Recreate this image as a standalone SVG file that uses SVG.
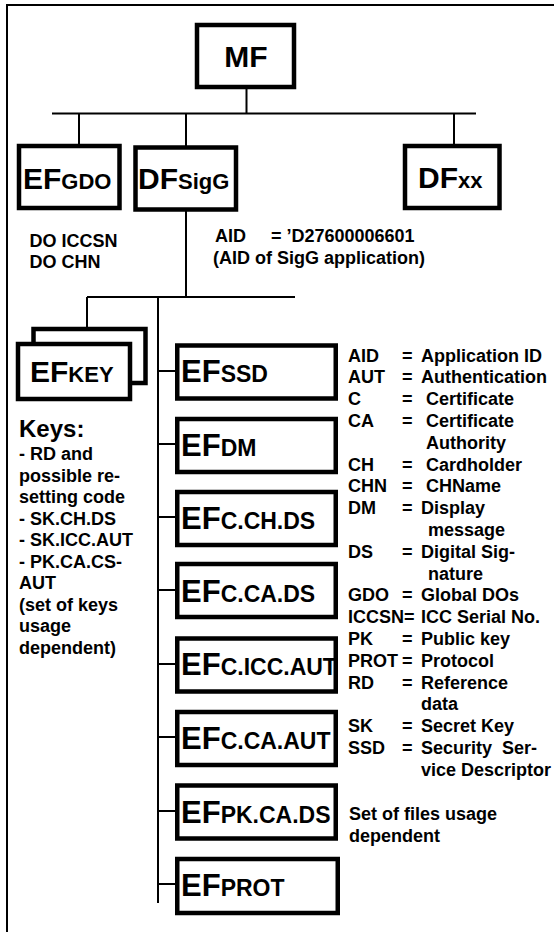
<svg xmlns="http://www.w3.org/2000/svg" width="554" height="932" viewBox="0 0 554 932">
<style>
text{font-family:"Liberation Sans",Arial,Helvetica,sans-serif;font-weight:bold;fill:#000}
.box{fill:#fff;stroke:#000;stroke-width:4.5}
.ln{stroke:#000;stroke-width:2;fill:none}
.big{font-size:30px}
.sub{font-size:22px}
.fbig{font-size:31px}
.fsub{font-size:23px}
.t{font-size:18px}
.k{font-size:24px}
</style>
<rect width="554" height="932" fill="#fff"/>
<g id="frame" class="ln">
<line x1="7" y1="5" x2="554" y2="5"/>
<line x1="7" y1="4" x2="7" y2="932"/>
</g>
<g id="connectors" class="ln">
<line x1="246.5" y1="89" x2="246.5" y2="113.5"/>
<line x1="52" y1="113.5" x2="476" y2="113.5"/>
<line x1="79" y1="113.5" x2="79" y2="145"/>
<line x1="186" y1="113.5" x2="186" y2="146"/>
<line x1="454" y1="113.5" x2="454" y2="145"/>
<line x1="186" y1="211" x2="186" y2="297"/>
<line x1="87" y1="297" x2="295" y2="297"/>
<line x1="87" y1="297" x2="87" y2="328"/>
<line x1="158" y1="297" x2="158" y2="903"/>
<line x1="158" y1="371" x2="177" y2="371"/>
<line x1="158" y1="444" x2="177" y2="444"/>
<line x1="158" y1="517" x2="177" y2="517"/>
<line x1="158" y1="590" x2="177" y2="590"/>
<line x1="158" y1="664" x2="177" y2="664"/>
<line x1="158" y1="737" x2="177" y2="737"/>
<line x1="158" y1="811" x2="177" y2="811"/>
<line x1="158" y1="884" x2="177" y2="884"/>
</g>
<g id="MF">
<rect class="box" x="197" y="25" width="97" height="62"/>
<text class="big" x="246" y="66.5" text-anchor="middle">MF</text>
</g>
<g id="EF_GDO">
<rect class="box" x="19" y="146" width="100.5" height="62"/>
<text x="23" y="189"><tspan class="big">EF</tspan><tspan class="sub">GDO</tspan></text>
</g>
<g id="DF_SigG">
<rect class="box" x="135.5" y="147.5" width="100.5" height="62"/>
<text x="138" y="189"><tspan class="big">DF</tspan><tspan class="sub">SigG</tspan></text>
</g>
<g id="DF_xx">
<rect class="box" x="405" y="146" width="94.5" height="62"/>
<text x="418" y="188"><tspan class="big">DF</tspan><tspan class="sub">xx</tspan></text>
</g>
<g id="gdo_note">
<text class="t" x="29.5" y="246.5">DO ICCSN</text>
<text class="t" x="29.5" y="268">DO CHN</text>
</g>
<g id="aid_note">
<text class="t" x="215" y="241.5">AID</text>
<text class="t" x="271" y="241.5">= ’D27600006601</text>
<text class="t" x="213" y="263.5">(AID of SigG application)</text>
</g>
<g id="EF_KEY">
<rect class="box" x="33.5" y="329" width="112" height="54"/>
<rect class="box" x="18" y="344" width="112" height="55"/>
<text x="30" y="381.5"><tspan class="big">EF</tspan><tspan class="sub">KEY</tspan></text>
</g>
<g id="keys_note">
<text class="k" x="19" y="436.5">Keys:</text>
<text class="t">
<tspan x="19" y="460">- RD and</tspan>
<tspan x="19" y="481.5">possible re-</tspan>
<tspan x="19" y="503">setting code</tspan>
<tspan x="19" y="524.5">- SK.CH.DS</tspan>
<tspan x="19" y="546">- SK.ICC.AUT</tspan>
<tspan x="19" y="567.5">- PK.CA.CS-</tspan>
<tspan x="19" y="589">AUT</tspan>
<tspan x="19" y="610.5">(set of keys</tspan>
<tspan x="19" y="632">usage</tspan>
<tspan x="19" y="653.5">dependent)</tspan>
</text>
</g>
<g id="EF_SSD">
<rect class="box" x="177.25" y="345.5" width="158.5" height="53"/>
<text x="181" y="382"><tspan class="fbig">EF</tspan><tspan class="fsub">SSD</tspan></text>
</g>
<g id="EF_DM">
<rect class="box" x="177.25" y="419" width="158.5" height="53"/>
<text x="181" y="455.5"><tspan class="fbig">EF</tspan><tspan class="fsub">DM</tspan></text>
</g>
<g id="EF_C_CH_DS">
<rect class="box" x="177.25" y="492" width="158.5" height="53"/>
<text x="181" y="529"><tspan class="fbig">EF</tspan><tspan class="fsub">C.CH.DS</tspan></text>
</g>
<g id="EF_C_CA_DS">
<rect class="box" x="177.25" y="564" width="158.5" height="53"/>
<text x="181" y="601.5"><tspan class="fbig">EF</tspan><tspan class="fsub">C.CA.DS</tspan></text>
</g>
<g id="EF_C_ICC_AUT">
<rect class="box" x="177.25" y="638.5" width="158.5" height="53"/>
<text x="181" y="675"><tspan class="fbig">EF</tspan><tspan class="fsub">C.ICC.AUT</tspan></text>
</g>
<g id="EF_C_CA_AUT">
<rect class="box" x="177.25" y="712" width="158.5" height="53"/>
<text x="181" y="749"><tspan class="fbig">EF</tspan><tspan class="fsub">C.CA.AUT</tspan></text>
</g>
<g id="EF_PK_CA_DS">
<rect class="box" x="177.25" y="785.5" width="158.5" height="53"/>
<text x="181" y="822.5"><tspan class="fbig">EF</tspan><tspan class="fsub">PK.CA.DS</tspan></text>
</g>
<g id="EF_PROT">
<rect class="box" x="177.25" y="859" width="160.5" height="54"/>
<text x="181" y="896"><tspan class="fbig">EF</tspan><tspan class="fsub">PROT</tspan></text>
</g>
<g id="legend">
<text class="t" x="348" y="361.5">AID</text><text class="t" x="402" y="361.5">=</text><text class="t" x="421" y="361.5">Application ID</text>
<text class="t" x="348" y="383.3">AUT</text><text class="t" x="402" y="383.3">=</text><text class="t" x="421" y="383.3">Authentication</text>
<text class="t" x="348" y="405.1">C</text><text class="t" x="402" y="405.1">=</text><text class="t" x="426" y="405.1">Certificate</text>
<text class="t" x="348" y="426.9">CA</text><text class="t" x="402" y="426.9">=</text><text class="t" x="426" y="426.9">Certificate</text>
<text class="t" x="426" y="448.7">Authority</text>
<text class="t" x="348" y="470.5">CH</text><text class="t" x="402" y="470.5">=</text><text class="t" x="426" y="470.5">Cardholder</text>
<text class="t" x="348" y="492.3">CHN</text><text class="t" x="402" y="492.3">=</text><text class="t" x="426" y="492.3">CHName</text>
<text class="t" x="348" y="514.1">DM</text><text class="t" x="402" y="514.1">=</text><text class="t" x="421" y="514.1">Display</text>
<text class="t" x="428" y="535.9">message</text>
<text class="t" x="348" y="557.7">DS</text><text class="t" x="402" y="557.7">=</text><text class="t" x="421" y="557.7">Digital Sig-</text>
<text class="t" x="428" y="579.5">nature</text>
<text class="t" x="348" y="601.3">GDO</text><text class="t" x="402" y="601.3">=</text><text class="t" x="421" y="601.3">Global DOs</text>
<text class="t" x="348" y="623.1">ICCSN=</text><text class="t" x="421" y="623.1">ICC Serial No.</text>
<text class="t" x="348" y="644.9">PK</text><text class="t" x="402" y="644.9">=</text><text class="t" x="421" y="644.9">Public key</text>
<text class="t" x="348" y="666.7">PROT</text><text class="t" x="402" y="666.7">=</text><text class="t" x="421" y="666.7">Protocol</text>
<text class="t" x="348" y="688.5">RD</text><text class="t" x="402" y="688.5">=</text><text class="t" x="421" y="688.5">Reference</text>
<text class="t" x="421" y="710.3">data</text>
<text class="t" x="348" y="732.1">SK</text><text class="t" x="402" y="732.1">=</text><text class="t" x="421" y="732.1">Secret Key</text>
<text class="t" x="348" y="753.9">SSD</text><text class="t" x="402" y="753.9">=</text><text class="t" x="421" y="753.9" xml:space="preserve">Security  Ser-</text>
<text class="t" x="421" y="775.7">vice Descriptor</text>
</g>
<g id="set_note">
<text class="t" x="349" y="820">Set of files usage</text>
<text class="t" x="349" y="841.5">dependent</text>
</g>
</svg>
